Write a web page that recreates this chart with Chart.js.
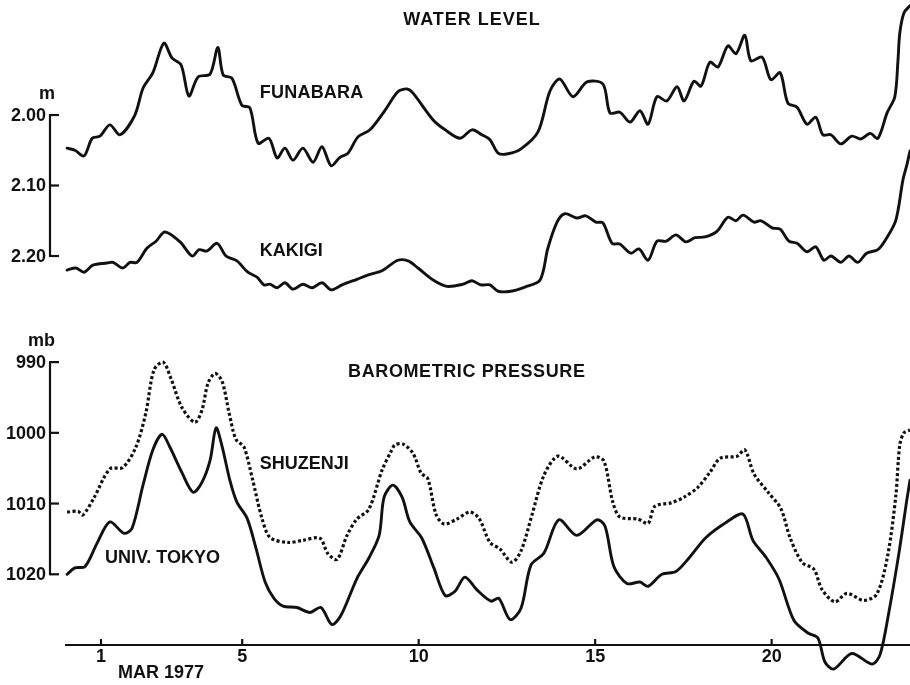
<!DOCTYPE html>
<html>
<head>
<meta charset="utf-8">
<title>Water level and barometric pressure, March 1977</title>
<script src="https://cdn.jsdelivr.net/npm/chart.js@4/dist/chart.umd.min.js"></script>
<style>
  html, body { margin: 0; padding: 0; background: #fff; }
  canvas { display: block; }
</style>
</head>
<body>
<canvas id="chart" width="910" height="685"></canvas>
<script>
// ---- Water level (m), March 1977 ----
const funabaraDay = [0.04,0.26,0.52,0.75,0.97,1.25,1.54,1.96,2.19,2.47,2.78,3.01,3.27,3.49,3.75,4.09,4.31,4.46,4.71,4.99,5.22,5.45,5.76,5.99,6.21,6.44,6.72,7.01,7.26,7.52,7.77,8.00,8.28,8.62,9.05,9.41,9.67,9.84,10.41,10.75,11.17,11.51,11.79,12.02,12.25,12.53,12.90,13.38,13.72,14.00,14.37,14.77,15.22,15.42,15.70,15.99,16.27,16.50,16.75,17.03,17.32,17.52,17.80,18.00,18.25,18.48,18.76,18.99,19.24,19.41,19.73,19.98,20.24,20.46,20.72,21.00,21.25,21.45,21.68,21.96,22.27,22.53,22.79,23.01,23.27,23.49,23.58,23.63,23.75,23.92];
const funabaraLevel = [2.047,2.050,2.058,2.033,2.030,2.014,2.028,2.000,1.962,1.940,1.898,1.919,1.929,1.973,1.946,1.942,1.904,1.943,1.948,1.986,1.990,2.040,2.033,2.061,2.047,2.064,2.047,2.067,2.045,2.072,2.060,2.054,2.031,2.021,1.993,1.967,1.963,1.969,2.007,2.021,2.033,2.021,2.028,2.035,2.054,2.055,2.048,2.024,1.966,1.949,1.974,1.953,1.956,1.997,1.996,2.010,1.994,2.013,1.974,1.980,1.960,1.980,1.952,1.959,1.925,1.932,1.902,1.913,1.887,1.923,1.918,1.950,1.940,1.983,1.989,2.013,2.003,2.028,2.028,2.041,2.030,2.034,2.026,2.033,1.997,1.974,1.922,1.884,1.855,1.845];

const kakigiDay = [0.04,0.29,0.52,0.77,1.17,1.34,1.62,1.82,2.02,2.30,2.56,2.81,3.24,3.58,3.78,4.00,4.29,4.54,4.85,5.16,5.42,5.62,5.79,5.99,6.21,6.44,6.72,6.98,7.26,7.52,7.83,8.25,8.62,8.96,9.41,9.70,9.98,10.41,10.80,11.26,11.51,11.76,12.02,12.25,12.61,13.01,13.44,13.66,13.92,14.14,14.48,14.74,15.02,15.22,15.48,15.70,16.01,16.24,16.50,16.75,17.01,17.29,17.57,17.83,18.11,18.45,18.76,18.99,19.19,19.50,19.70,20.01,20.24,20.49,20.72,21.00,21.25,21.48,21.68,21.96,22.19,22.44,22.69,23.01,23.24,23.52,23.72,23.83,23.92];
const kakigiLevel = [2.220,2.217,2.223,2.213,2.210,2.209,2.217,2.209,2.209,2.189,2.179,2.166,2.180,2.200,2.191,2.193,2.182,2.200,2.207,2.223,2.230,2.241,2.240,2.245,2.238,2.247,2.240,2.245,2.238,2.248,2.241,2.233,2.226,2.221,2.206,2.207,2.217,2.234,2.243,2.240,2.235,2.241,2.241,2.250,2.250,2.244,2.234,2.189,2.152,2.140,2.146,2.143,2.152,2.153,2.182,2.183,2.196,2.190,2.206,2.179,2.179,2.170,2.180,2.174,2.173,2.165,2.145,2.150,2.142,2.152,2.150,2.160,2.162,2.179,2.182,2.194,2.187,2.206,2.200,2.209,2.200,2.209,2.196,2.191,2.176,2.149,2.092,2.071,2.051];

// ---- Barometric pressure (mb) ----
const shuzenjiDay = [0.04,0.35,0.49,0.80,1.25,1.62,1.99,2.27,2.50,2.76,2.98,3.29,3.66,3.86,4.03,4.23,4.43,4.63,4.82,5.05,5.28,5.56,5.79,6.30,6.72,7.20,7.43,7.69,7.97,8.25,8.59,8.96,9.22,9.33,9.56,9.84,10.07,10.26,10.49,10.72,11.08,11.45,11.71,12.02,12.30,12.64,12.90,13.21,13.55,13.95,14.48,14.99,15.25,15.50,15.70,16.21,16.50,16.69,17.15,17.52,17.91,18.25,18.54,19.02,19.24,19.50,19.90,20.26,20.52,20.86,21.20,21.42,21.79,22.13,22.61,22.98,23.29,23.52,23.63,23.75,23.92];
const shuzenjiPressure = [1011.2,1011.1,1011.6,1009.2,1005.1,1004.9,1002.0,997.2,991.1,990.0,992.3,996.4,998.5,996.8,993.0,991.6,992.7,997.2,1000.9,1002.0,1006.3,1012.1,1014.8,1015.5,1015.2,1014.9,1017.1,1017.9,1014.5,1012.2,1010.8,1005.3,1002.6,1001.7,1001.6,1002.9,1005.7,1006.5,1011.5,1012.9,1012.2,1011.2,1012.1,1015.5,1016.4,1018.3,1016.7,1011.6,1006.0,1003.3,1005.1,1003.4,1004.0,1009.8,1011.9,1012.2,1012.8,1010.4,1009.9,1009.1,1007.7,1005.6,1003.6,1003.3,1002.4,1005.8,1008.4,1010.7,1014.8,1018.3,1019.3,1022.1,1023.9,1022.7,1023.7,1022.8,1017.3,1008.8,1001.7,1000.0,999.6];

const tokyoDay = [0.04,0.26,0.55,0.89,1.25,1.65,1.88,2.19,2.47,2.73,2.95,3.29,3.61,3.86,4.09,4.26,4.43,4.65,4.85,5.14,5.39,5.65,5.90,6.16,6.55,6.92,7.23,7.54,7.80,8.25,8.59,8.88,9.02,9.27,9.53,9.75,10.09,10.43,10.75,11.03,11.31,11.65,12.05,12.27,12.59,12.90,13.18,13.55,13.97,14.48,15.05,15.28,15.53,15.90,16.27,16.50,16.89,17.29,17.66,18.14,18.73,19.19,19.47,19.84,20.21,20.63,21.03,21.31,21.51,21.76,22.27,22.84,23.07,23.32,23.61,23.83,23.92];
const tokyoPressure = [1020.0,1019.1,1018.9,1015.6,1012.6,1014.2,1013.5,1007.4,1002.4,1000.2,1002.0,1005.6,1008.4,1007.0,1003.9,999.3,1001.9,1006.7,1009.8,1012.1,1016.3,1021.1,1023.4,1024.5,1024.7,1025.4,1024.7,1027.1,1025.8,1020.6,1017.7,1014.5,1009.1,1007.4,1009.1,1012.6,1014.9,1019.1,1023.0,1022.4,1020.4,1022.2,1023.8,1023.4,1026.4,1024.8,1018.7,1017.0,1012.3,1014.5,1012.3,1013.2,1018.9,1021.3,1021.1,1021.7,1020.0,1019.6,1017.7,1014.8,1012.6,1011.5,1015.2,1017.6,1020.7,1026.5,1028.3,1029.0,1032.4,1033.4,1031.2,1032.7,1031.4,1025.4,1016.9,1009.5,1006.7];

// ---- Axis ticks ----
const dayTicks = [1, 5, 10, 15, 20];
const levelTicks = [2.00, 2.10, 2.20];
const levelTickText = ['2.00', '2.10', '2.20'];
const pressureTicks = [990, 1000, 1010, 1020];
const pressureTickText = ['990', '1000', '1010', '1020'];

const INK = '#111';
const FONT = 'bold 18px "Liberation Sans", Arial, sans-serif';

function toPoints(xs, ys) {
  return xs.map((x, i) => ({ x: x, y: ys[i] }));
}

// Axes, tick labels and captions are drawn from the chart's own scales.
const figureFrame = {
  id: 'figureFrame',
  afterDatasetsDraw(chart) {
    const { ctx, chartArea, scales } = chart;
    const sx = scales.x, yW = scales.yW, yP = scales.yP;
    ctx.save();
    ctx.strokeStyle = INK;
    ctx.fillStyle = INK;
    ctx.font = FONT;
    ctx.lineWidth = 2.2;
    ctx.lineCap = 'butt';

    const axisX = chartArea.left - 15;

    // Left vertical axes with inward ticks
    [[yW, levelTicks, levelTickText, 'm'], [yP, pressureTicks, pressureTickText, 'mb']].forEach(([s, vals, txt, unit]) => {
      const yTop = s.getPixelForValue(vals[0]);
      const yBot = s.getPixelForValue(vals[vals.length - 1]);
      ctx.beginPath();
      ctx.moveTo(axisX, yTop - 1);
      ctx.lineTo(axisX, yBot + 1);
      ctx.stroke();
      ctx.textAlign = 'right';
      ctx.textBaseline = 'middle';
      vals.forEach((v, i) => {
        const py = s.getPixelForValue(v);
        ctx.beginPath();
        ctx.moveTo(axisX, py);
        ctx.lineTo(axisX + 9, py);
        ctx.stroke();
        ctx.fillText(txt[i], axisX - 4, py + 1);
      });
      ctx.fillText(unit, axisX + 5, yTop - 21);
    });

    // Bottom time axis
    const base = chartArea.bottom;
    ctx.beginPath();
    ctx.moveTo(chartArea.left, base);
    ctx.lineTo(chartArea.right, base);
    ctx.stroke();
    ctx.textAlign = 'center';
    ctx.textBaseline = 'middle';
    dayTicks.forEach(d => {
      const px = sx.getPixelForValue(d);
      ctx.beginPath();
      ctx.moveTo(px, base);
      ctx.lineTo(px, base - 6);
      ctx.stroke();
      ctx.fillText(String(d), px, base + 12);
    });
    ctx.textAlign = 'left';
    ctx.fillText('MAR 1977', sx.getPixelForValue(1.48), base + 28);

    // Panel titles and station names
    const label = (text, day, scale, value, spacing) => {
      ctx.letterSpacing = spacing || '0px';
      ctx.textAlign = 'left';
      ctx.textBaseline = 'middle';
      ctx.fillText(text, sx.getPixelForValue(day), scale.getPixelForValue(value));
    };
    label('WATER LEVEL', 9.56, yW, 1.865, '1px');
    label('FUNABARA', 5.50, yW, 1.969, '0.2px');
    label('KAKIGI', 5.50, yW, 2.193, '0px');
    label('BAROMETRIC PRESSURE', 8.00, yP, 991.4, '0.6px');
    label('SHUZENJI', 5.50, yP, 1004.4, '0px');
    label('UNIV. TOKYO', 1.11, yP, 1017.7, '0px');
    ctx.letterSpacing = '0px';
    ctx.restore();
  }
};

const solid = { borderColor: INK, borderWidth: 2.9, pointRadius: 0, tension: 0.3, fill: false, clip: false, borderJoinStyle: 'round', borderCapStyle: 'round' };

new Chart(document.getElementById('chart'), {
  type: 'line',
  data: {
    datasets: [
      Object.assign({ label: 'FUNABARA', data: toPoints(funabaraDay, funabaraLevel), yAxisID: 'yW' }, solid),
      Object.assign({ label: 'KAKIGI', data: toPoints(kakigiDay, kakigiLevel), yAxisID: 'yW' }, solid),
      Object.assign({ label: 'SHUZENJI', data: toPoints(shuzenjiDay, shuzenjiPressure), yAxisID: 'yP' }, solid,
        { borderWidth: 3.2, borderDash: [3, 2.4], borderCapStyle: 'butt' }),
      Object.assign({ label: 'UNIV. TOKYO', data: toPoints(tokyoDay, tokyoPressure), yAxisID: 'yP' }, solid)
    ]
  },
  options: {
    responsive: false,
    animation: false,
    events: [],
    layout: { padding: { left: 65, right: 0, top: 3, bottom: 40 } },
    plugins: { legend: { display: false }, tooltip: { enabled: false }, title: { display: false } },
    scales: {
      x: { type: 'linear', display: false, min: -0.02, max: 23.92 },
      yW: { type: 'linear', display: false, reverse: true, min: 1.8411, max: 2.7518 },
      yP: { type: 'linear', display: false, reverse: true, min: 939.22, max: 1030 }
    }
  },
  plugins: [figureFrame]
});
</script>
</body>
</html>
